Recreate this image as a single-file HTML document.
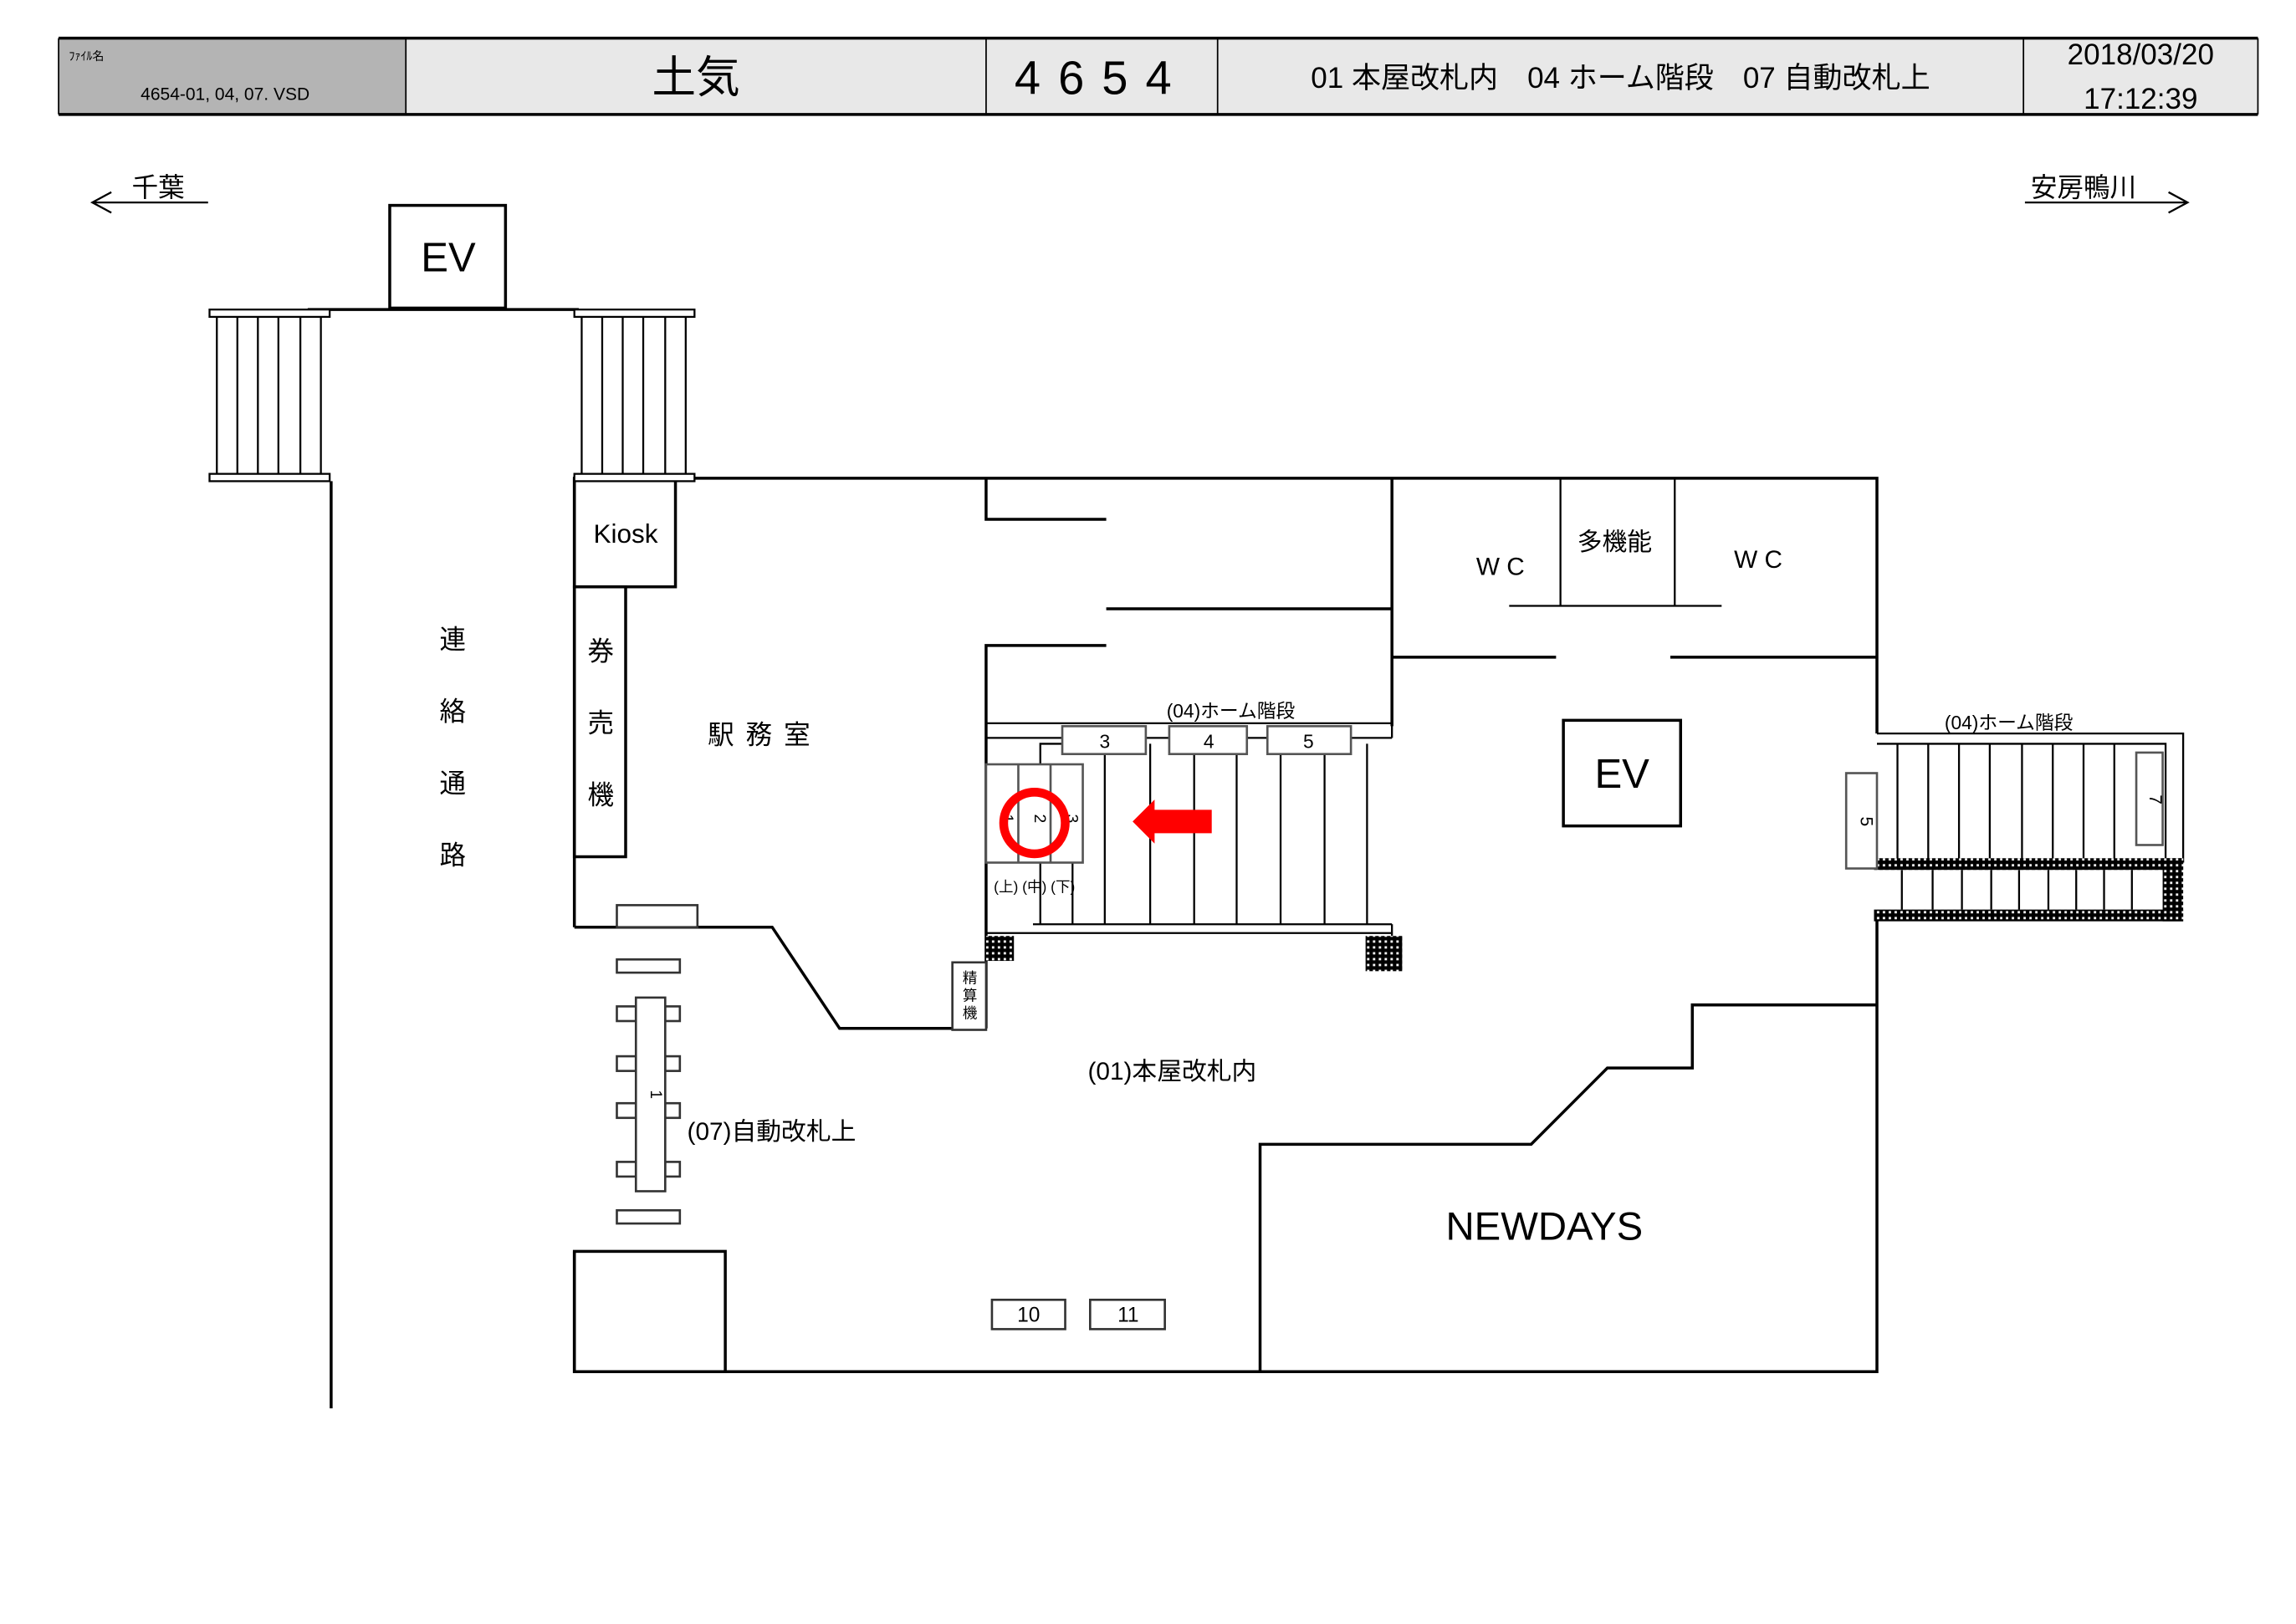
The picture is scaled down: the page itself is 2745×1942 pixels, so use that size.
<!DOCTYPE html>
<html><head><meta charset="utf-8"><style>
html,body{margin:0;padding:0;background:#fff}
svg{display:block}
text{font-family:"Liberation Sans","Noto Sans CJK JP",sans-serif;fill:#000}
</style></head><body>
<svg width="2745" height="1942" viewBox="0 0 1567 1107" preserveAspectRatio="none" xmlns="http://www.w3.org/2000/svg">
<defs>
<pattern id="dot" width="4" height="4" patternUnits="userSpaceOnUse">
<rect width="4" height="4" fill="#000"/><rect x="1" y="1" width="1.6" height="1.6" fill="#fff"/>
</pattern>
</defs>
<rect x="40" y="26" width="237" height="52" fill="#b4b4b4"/>
<rect x="277" y="26" width="1264" height="52" fill="#e8e8e8"/>
<g stroke="#000" fill="none">
<line x1="40" y1="26" x2="1541" y2="26" stroke-width="2"/>
<line x1="40" y1="78" x2="1541" y2="78" stroke-width="2"/>
<line x1="40" y1="26" x2="40" y2="78"/>
<line x1="1541" y1="26" x2="1541" y2="78"/>
<line x1="277" y1="26" x2="277" y2="78"/>
<line x1="673" y1="26" x2="673" y2="78"/>
<line x1="831" y1="26" x2="831" y2="78"/>
<line x1="1381" y1="26" x2="1381" y2="78"/>
</g>
<text x="47" y="41" font-size="8">ﾌｧｲﾙ名</text>
<text x="96" y="68" font-size="12">4654-01, 04, 07. VSD</text>
<text x="475" y="63" font-size="30" text-anchor="middle">土気</text>
<text x="752" y="64" font-size="32" text-anchor="middle" letter-spacing="12">4654</text>
<text x="1106" y="60" font-size="20" text-anchor="middle">01 本屋改札内　04 ホーム階段　07 自動改札上</text>
<text x="1461" y="44" font-size="20" text-anchor="middle">2018/03/20</text>
<text x="1461" y="74" font-size="20" text-anchor="middle">17:12:39</text>
<g stroke="#000" fill="none" stroke-width="1.3">
<line x1="63" y1="138" x2="142" y2="138"/><polyline points="76,131 63,138 76,145"/>
<line x1="1382" y1="138" x2="1493" y2="138"/><polyline points="1480,131 1493,138 1480,145"/>
</g>
<text x="90" y="134" font-size="18">千葉</text>
<text x="1386" y="134" font-size="18">安房鴨川</text>
<g stroke="#000" fill="none" stroke-width="2">
<rect x="266" y="140" width="79" height="70"/>
<line x1="210" y1="211" x2="395" y2="211"/>
<line x1="226" y1="328" x2="226" y2="960"/>
<polyline points="392,326 1281,326 1281,500"/>
<polyline points="1281,625 1281,935 392,935 392,853"/>
<line x1="392" y1="326" x2="392" y2="632"/>
<polyline points="392,632 527,632 573,701 673,701"/>
<rect x="392" y="853" width="103" height="82"/>
<rect x="392" y="326" width="69" height="74"/>
<rect x="392" y="400" width="35" height="184"/>
<polyline points="673,326 673,354 755,354"/>
<line x1="755" y1="415" x2="950" y2="415"/>
<polyline points="755,440 673,440 673,701"/>
<line x1="950" y1="326" x2="950" y2="495"/>
<line x1="950" y1="448" x2="1062" y2="448"/>
<line x1="1140" y1="448" x2="1281" y2="448"/>
<rect x="1067" y="491" width="80" height="72"/>
<polyline points="860,935 860,780 1045,780 1097,728 1155,728 1155,685 1281,685"/>
</g>
<g stroke="#000" fill="none" stroke-width="1.3">
<line x1="1065" y1="326" x2="1065" y2="413"/>
<line x1="1143" y1="326" x2="1143" y2="413"/>
<line x1="1030" y1="413" x2="1175" y2="413"/>
</g>
<g stroke="#000" fill="#fff" stroke-width="1.3">
<rect x="143" y="211" width="82" height="5"/><rect x="143" y="323" width="82" height="5"/>
<rect x="392" y="211" width="82" height="5"/><rect x="392" y="323" width="82" height="5"/>
<path d="M148 216V323M162 216V323M176 216V323M190 216V323M205 216V323M219 216V323M397 216V323M411 216V323M425 216V323M439 216V323M454 216V323M468 216V323" fill="none"/>
</g>
<text x="306" y="185" font-size="28" text-anchor="middle">EV</text>
<text x="427" y="370" font-size="18" text-anchor="middle">Kiosk</text>
<text x="410" y="450" font-size="18" text-anchor="middle">券</text>
<text x="410" y="499" font-size="18" text-anchor="middle">売</text>
<text x="410" y="548" font-size="18" text-anchor="middle">機</text>
<text x="309" y="442" font-size="18" text-anchor="middle">連</text>
<text x="309" y="491" font-size="18" text-anchor="middle">絡</text>
<text x="309" y="540" font-size="18" text-anchor="middle">通</text>
<text x="309" y="589" font-size="18" text-anchor="middle">路</text>
<text x="522" y="507" font-size="18" text-anchor="middle" letter-spacing="8">駅務室</text>
<text x="1024" y="392" font-size="17" text-anchor="middle">W C</text>
<text x="1102" y="375" font-size="17" text-anchor="middle">多機能</text>
<text x="1200" y="387" font-size="17" text-anchor="middle">W C</text>
<text x="1107" y="537" font-size="28" text-anchor="middle">EV</text>
<text x="1054" y="845" font-size="27" text-anchor="middle">NEWDAYS</text>
<text x="800" y="736" font-size="17" text-anchor="middle">(01)本屋改札内</text>
<text x="469" y="777" font-size="17">(07)自動改札上</text>
<g stroke="#333" fill="#fff" stroke-width="1.5">
<rect x="421" y="617" width="55" height="15"/>
<rect x="421" y="654" width="43" height="9"/>
<rect x="421" y="825" width="43" height="9"/>
<rect x="421" y="686" width="13" height="10"/><rect x="454" y="686" width="10" height="10"/>
<rect x="421" y="720" width="13" height="10"/><rect x="454" y="720" width="10" height="10"/>
<rect x="421" y="752" width="13" height="10"/><rect x="454" y="752" width="10" height="10"/>
<rect x="421" y="792" width="13" height="10"/><rect x="454" y="792" width="10" height="10"/>
<rect x="434" y="680" width="20" height="132"/>
<rect x="677" y="886" width="50" height="20"/>
<rect x="744" y="886" width="51" height="20"/>
<rect x="650" y="656" width="23" height="46"/>
</g>
<text x="444" y="746" font-size="11" text-anchor="middle" transform="rotate(90 444 746)">1</text>
<text x="702" y="901" font-size="14" text-anchor="middle">10</text>
<text x="770" y="901" font-size="14" text-anchor="middle">11</text>
<text x="662" y="670" font-size="10" text-anchor="middle">精</text>
<text x="662" y="682" font-size="10" text-anchor="middle">算</text>
<text x="662" y="694" font-size="10" text-anchor="middle">機</text>
<g stroke="#000" fill="none" stroke-width="1.3">
<polyline points="673,493 950,493 950,503"/>
<polyline points="673,503 725,503"/>
<line x1="782" y1="503" x2="798" y2="503"/>
<line x1="851" y1="503" x2="865" y2="503"/>
<line x1="922" y1="503" x2="950" y2="503"/>
<polyline points="710,521 710,507 725,507"/>
<path d="M754 514V630M785 507V630M815 514V630M844 514V630M874 514V630M904 514V630M933 507V630M710 588V630M732 588V630"/>
<line x1="705" y1="630" x2="950" y2="630"/>
<line x1="673" y1="636" x2="950" y2="636"/>
<line x1="950" y1="630" x2="950" y2="638"/>
</g>
<g stroke="#555" fill="#fff" stroke-width="1.5">
<rect x="725" y="495" width="57" height="19"/>
<rect x="798" y="495" width="53" height="19"/>
<rect x="865" y="495" width="57" height="19"/>
<rect x="673" y="521" width="66" height="67"/>
<line x1="695" y1="521" x2="695" y2="588"/>
<line x1="717" y1="521" x2="717" y2="588"/>
</g>
<text x="754" y="510" font-size="13" text-anchor="middle">3</text>
<text x="825" y="510" font-size="13" text-anchor="middle">4</text>
<text x="893" y="510" font-size="13" text-anchor="middle">5</text>
<text x="840" y="489" font-size="13" text-anchor="middle">(04)ホーム階段</text>
<text x="684" y="558" font-size="11" text-anchor="middle" transform="rotate(90 684 558)">1</text>
<text x="706" y="558" font-size="11" text-anchor="middle" transform="rotate(90 706 558)">2</text>
<text x="728" y="558" font-size="11" text-anchor="middle" transform="rotate(90 728 558)">3</text>
<text x="706" y="608" font-size="10" text-anchor="middle">(上) (中) (下)</text>
<circle cx="706" cy="561" r="21" fill="none" stroke="#f00" stroke-width="6"/>
<polygon points="773,560 788,545 788,552 827,552 827,568 788,568 788,575" fill="#f00"/>
<rect x="673" y="638" width="19" height="17" fill="url(#dot)"/>
<rect x="932" y="638" width="25" height="24" fill="url(#dot)"/>
<g stroke="#000" fill="none" stroke-width="1.3">
<polyline points="1281,500 1490,500 1490,588"/>
<polyline points="1281,507 1478,507 1478,588"/>
<path d="M1295 507V588M1316 507V588M1337 507V588M1358 507V588M1380 507V588M1401 507V588M1422 507V588M1443 507V588M1298 593V620M1319 593V620M1339 593V620M1359 593V620M1378 593V620M1398 593V620M1417 593V620M1436 593V620M1455 593V620"/>
</g>
<rect x="1279" y="585" width="211" height="8" fill="url(#dot)"/>
<rect x="1279" y="620" width="211" height="8" fill="url(#dot)"/>
<rect x="1476" y="585" width="14" height="43" fill="url(#dot)"/>
<g stroke="#555" fill="#fff" stroke-width="1.5">
<rect x="1260" y="527" width="21" height="65"/>
<rect x="1458" y="513" width="18" height="63"/>
</g>
<text x="1270" y="560" font-size="12" text-anchor="middle" transform="rotate(90 1270 560)">5</text>
<text x="1467" y="545" font-size="12" text-anchor="middle" transform="rotate(90 1467 545)">7</text>
<text x="1371" y="497" font-size="13" text-anchor="middle">(04)ホーム階段</text>
</svg>
</body></html>
